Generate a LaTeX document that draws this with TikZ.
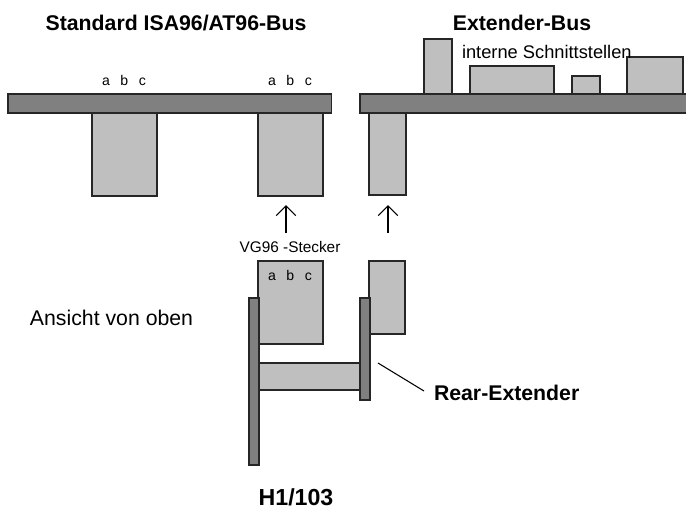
\documentclass[tikz,border=0pt]{standalone}
\usepackage{fontspec}
\setmainfont{Liberation Sans}
\usetikzlibrary{arrows.meta}

\begin{document}
\begin{tikzpicture}[
  x=0.02cm, y=-0.02cm,
  every node/.style={inner sep=0pt, outer sep=0pt},
  part/.style={draw=black!85, line width=0.6pt, anchor=north west},
  bus/.style={part, fill=black!50},
  card/.style={part, fill=black!25},
  plate/.style={part, fill=black!50, minimum width=0.2cm},
  arrow/.style={-{Straight Barb[length=5.6pt, width=11pt]}, line width=0.6pt, draw=black},
  leader/.style={line width=0.6pt, draw=black},
  title/.style={font=\fontsize{12.1}{14}\selectfont\bfseries},
  label/.style={font=\fontsize{12.1}{14}\selectfont},
  inner label/.style={font=\fontsize{10.4}{12}\selectfont},
  plug label/.style={font=\fontsize{8.75}{10}\selectfont},
  contacts/.style={font=\fontsize{8}{10}\selectfont}
]
\useasboundingbox (0,0) rectangle (686,511);

% Titles
\node[title] (titleisa) at (176, 23) {Standard ISA96/AT96-Bus};
\node[title] (titleext) at (522, 23) {Extender-Bus};

% Standard bus with two connectors
\node[bus, minimum width=6.48cm, minimum height=0.38cm] (busisa) at (8, 94) {};
\node[card, minimum width=1.3cm, minimum height=1.66cm] (isaone) at (92, 113) {};
\node[card, minimum width=1.3cm, minimum height=1.66cm] (isatwo) at (258, 113) {};
\node[contacts] (abcone) at (124, 80) {a\hspace{0.75em}b\hspace{0.75em}c};
\node[contacts] (abctwo) at (290, 80) {a\hspace{0.75em}b\hspace{0.75em}c};

% Extender bus with connector and internal interfaces
\node[bus, minimum width=6.8cm, minimum height=0.38cm] (busext) at (360, 94) {};
\node[card, minimum width=0.74cm, minimum height=1.64cm] (extcard) at (369, 113) {};
\node[card, minimum width=0.56cm, minimum height=1.1cm] (ifone) at (424, 39) {};
\node[card, minimum width=1.68cm, minimum height=0.56cm] (iftwo) at (470, 66) {};
\node[card, minimum width=0.56cm, minimum height=0.36cm] (ifthree) at (572, 76) {};
\node[card, minimum width=1.12cm, minimum height=0.74cm] (iffour) at (627, 57) {};
\node[inner label, anchor=west] (internal) at (462, 52) {interne Schnittstellen};

% Arrows
\coordinate (startisa) at (286, 233);
\coordinate (tipisa) at (286, 205);
\coordinate (startext) at (388, 233);
\coordinate (tipext) at (388, 205);
\draw[arrow] (startisa) -- (tipisa);
\draw[arrow] (startext) -- (tipext);
\node[plug label] (stecker) at (290, 247) {VG96 -Stecker};

% Rear extender, top view
\node[card, minimum width=1.3cm, minimum height=1.66cm] (lowisa) at (258, 261) {};
\node[card, minimum width=0.72cm, minimum height=1.46cm] (lowext) at (369, 261) {};
\node[card, minimum width=2.04cm, minimum height=0.54cm] (bridge) at (258, 363) {};
\node[plate, minimum height=3.34cm] (plateleft) at (249, 298) {};
\node[plate, minimum height=2.04cm] (plateright) at (360, 298) {};
\node[contacts] (abclow) at (290, 275) {a\hspace{0.75em}b\hspace{0.75em}c};

% Labels
\node[label, anchor=west] (topview) at (30, 318) {Ansicht von oben};
\node[title, anchor=west] (rear) at (434, 393) {Rear-Extender};
\node[title, font=\fontsize{13.2}{15}\selectfont\bfseries] (hone) at (296, 497) {H1/103};
\coordinate (leadstart) at (378, 363);
\coordinate (leadend) at (424, 391);
\draw[leader] (leadstart) -- (leadend);

\end{tikzpicture}
\end{document}
